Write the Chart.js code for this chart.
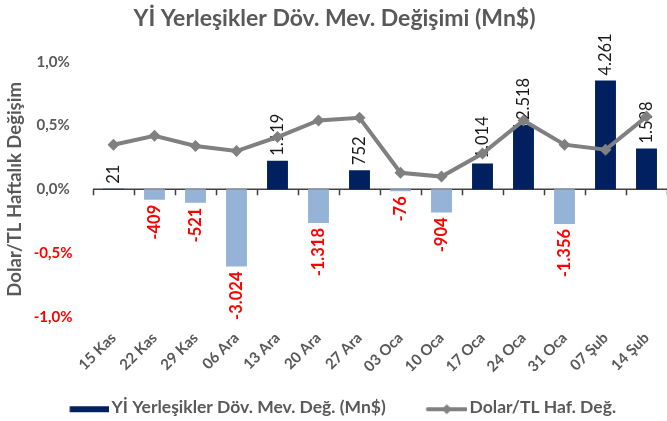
<!DOCTYPE html>
<html>
<head>
<meta charset="utf-8">
<script src="https://cdn.jsdelivr.net/npm/chart.js@4.4.1/dist/chart.umd.min.js"></script>
<style>
  html, body { margin: 0; padding: 0; background: #fff; }
  #wrap { width: 667px; height: 421px; position: relative; }
</style>
</head>
<body>
<div id="wrap"><canvas id="chart"></canvas></div>
<script>
const weeks = ['15 Kas', '22 Kas', '29 Kas', '06 Ara', '13 Ara', '20 Ara', '27 Ara',
               '03 Oca', '10 Oca', '17 Oca', '24 Oca', '31 Oca', '07 Şub', '14 Şub'];
// resident FX deposit change, million $
const depositChange = [21, -409, -521, -3024, 1119, -1318, 752, -76, -904, 1014, 2518, -1356, 4261, 1598];
// weekly USD/TRY change, %
const usdTryChange = [0.35, 0.42, 0.34, 0.30, 0.41, 0.54, 0.56, 0.13, 0.10, 0.28, 0.54, 0.35, 0.31, 0.57];
const pctTicks = [-1, -0.5, 0, 0.5, 1];

const GRAY = '#595959';
const NAVY = '#002060';
const LIGHT = '#95B3D7';
const FONT = 'Lato, "Open Sans", sans-serif';

const LEG_FS = 17.5;
const LEG_PAD = 4;
const LEG_W = 71;               // box slot width in legend
const SW_W = LEG_W + LEG_FS - 4; // swatch canvas width, content right-aligned

// thousands with dot, Turkish style
function fmtNum(v) {
    const s = String(Math.abs(v)).replace(/\B(?=(\d{3})+(?!\d))/g, '.');
    return (v < 0 ? '-' : '') + s;
}

// legend swatches (drawn as point style images)
function makeBarSwatch() {
    const c = document.createElement('canvas');
    c.width = SW_W; c.height = 20;
    const g = c.getContext('2d');
    g.fillStyle = NAVY;
    g.fillRect(SW_W - 40, 9, 40, 6);
    return c;
}
function makeLineSwatch() {
    const c = document.createElement('canvas');
    c.width = SW_W; c.height = 20;
    const g = c.getContext('2d');
    const x0 = SW_W - 42, cy = 12;
    g.strokeStyle = '#808080';
    g.lineWidth = 4;
    g.lineCap = 'round';
    g.beginPath(); g.moveTo(x0 + 2, cy); g.lineTo(x0 + 40, cy); g.stroke();
    g.fillStyle = '#808080';
    g.beginPath();
    g.moveTo(x0 + 21, cy - 5); g.lineTo(x0 + 26, cy); g.lineTo(x0 + 21, cy + 5); g.lineTo(x0 + 16, cy);
    g.closePath(); g.fill();
    return c;
}

// zero axis line with tick marks between categories
const zeroAxis = {
    id: 'zeroAxis',
    beforeDatasetsDraw(chart) {
        const { ctx, chartArea } = chart;
        const y0 = chart.scales.y.getPixelForValue(0);
        const step = (chartArea.right - chartArea.left) / weeks.length;
        ctx.save();
        ctx.strokeStyle = '#404040';
        ctx.lineWidth = 1.5;
        ctx.beginPath();
        ctx.moveTo(chartArea.left, y0);
        ctx.lineTo(chartArea.right, y0);
        for (let i = 0; i <= weeks.length; i++) {
            const x = Math.round(chartArea.left + i * step) + 0.5;
            ctx.moveTo(x, y0);
            ctx.lineTo(x, y0 + 6);
        }
        ctx.stroke();
        ctx.restore();
    }
};

// rotated value labels on the bars
const barLabels = {
    id: 'barLabels',
    afterDatasetDraw(chart, args) {
        if (args.index !== 0) return;
        const { ctx } = chart;
        const meta = chart.getDatasetMeta(0);
        meta.data.forEach((bar, i) => {
            const v = depositChange[i];
            ctx.save();
            if (v >= 0) {
                ctx.translate(bar.x, bar.y - 5);
                ctx.textAlign = 'left';
                ctx.fillStyle = '#1a1a1a';
                ctx.font = '16.5px ' + FONT;
            } else {
                ctx.translate(bar.x, bar.y + 5);
                ctx.textAlign = 'right';
                ctx.fillStyle = '#FF0000';
                ctx.font = 'bold 16.5px ' + FONT;
            }
            ctx.rotate(-Math.PI / 2);
            ctx.textBaseline = 'middle';
            ctx.fillText(fmtNum(v), 0, 0);
            ctx.restore();
        });
    }
};

new Chart(document.getElementById('chart'), {
    data: {
        labels: weeks,
        datasets: [
            {
                type: 'bar',
                label: 'Yİ Yerleşikler Döv. Mev. Değ. (Mn$)',
                data: depositChange,
                yAxisID: 'y1',
                backgroundColor: depositChange.map(v => v >= 0 ? NAVY : LIGHT),
                barPercentage: 0.51,
                categoryPercentage: 1,
                order: 1
            },
            {
                type: 'line',
                label: 'Dolar/TL Haf. Değ.',
                data: usdTryChange,
                yAxisID: 'y',
                borderColor: '#808080',
                backgroundColor: '#808080',
                borderWidth: 4,
                pointStyle: 'rectRot',
                pointRadius: 6,
                pointBorderWidth: 0,
                tension: 0,
                clip: false,
                order: 0
            }
        ]
    },
    options: {
        responsive: true,
        maintainAspectRatio: false,
        animation: false,
        layout: { autoPadding: false, padding: { left: 0, right: -2, top: 0, bottom: -5 } },
        plugins: {
            title: {
                display: true,
                text: 'Yİ Yerleşikler Döv. Mev. Değişimi (Mn$)',
                color: GRAY,
                font: { family: FONT, size: 23, weight: 'bold' },
                padding: { top: 5, bottom: 29.1 }
            },
            legend: {
                position: 'bottom',
                labels: {
                    usePointStyle: true,
                    pointStyleWidth: LEG_W,
                    generateLabels(chart) {
                        return [
                            { text: chart.data.datasets[0].label, pointStyle: makeBarSwatch(), fontColor: GRAY, datasetIndex: 0, lineWidth: 0 },
                            { text: chart.data.datasets[1].label + '     ', pointStyle: makeLineSwatch(), fontColor: GRAY, datasetIndex: 1, lineWidth: 0 }
                        ];
                    },
                    color: GRAY,
                    font: { family: FONT, size: LEG_FS, weight: 'bold' },
                    padding: LEG_PAD
                }
            },
            tooltip: { enabled: false }
        },
        scales: {
            x: {
                offset: true,
                grid: { display: false, drawTicks: false },
                border: { display: false },
                ticks: {
                    color: GRAY,
                    font: { family: FONT, size: 15, weight: 'bold' },
                    minRotation: 45,
                    maxRotation: 45,
                    autoSkip: false,
                    padding: 12
                },
                afterFit(scale) {
                    scale.height = 77.5;
                    scale.paddingLeft = 0;
                    scale.paddingRight = 0;
                }
            },
            y: {
                position: 'left',
                min: -1,
                max: 1,
                afterBuildTicks(scale) {
                    scale.ticks = pctTicks.map(v => ({ value: v }));
                },
                grid: { display: false, drawTicks: false },
                border: { display: false },
                title: {
                    display: true,
                    text: 'Dolar/TL Haftalık Değişim',
                    color: GRAY,
                    font: { family: FONT, size: 18.5, weight: 'bold' },
                    padding: { top: 4, bottom: 0 }
                },
                ticks: {
                    crossAlign: 'center',
                    padding: 20.5,
                    color: ctx => ctx.tick.value < 0 ? '#FF0000' : GRAY,
                    font: { family: FONT, size: 15, weight: 'bold' },
                    callback: v => v.toFixed(1).replace('.', ',') + '%'
                },
                afterFit(scale) { scale.width = 93; }
            },
            y1: {
                display: false,
                min: -5000,
                max: 5000
            }
        }
    },
    plugins: [zeroAxis, barLabels]
});
</script>
</body>
</html>
